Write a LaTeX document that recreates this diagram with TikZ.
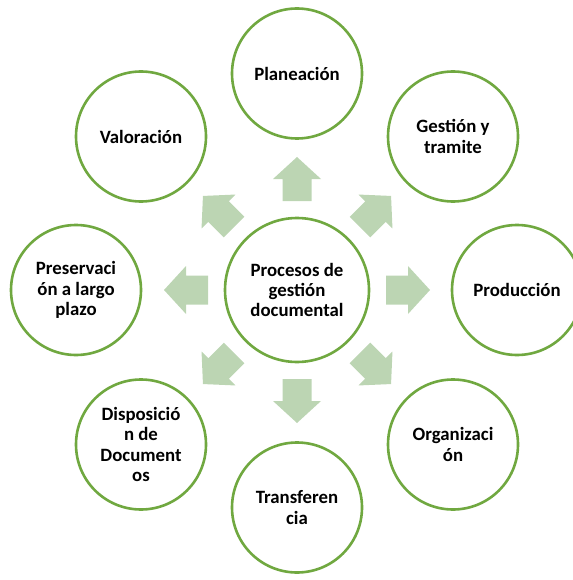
\documentclass[tikz,border=0pt]{standalone}
\usepackage{fontspec}
\setmainfont{Carlito}
\begin{document}
\begin{tikzpicture}[x=1pt,y=-1pt,
  proc/.style={circle, draw=ringgreen, line width=2.6pt, fill=white,
    minimum size=130pt, inner sep=0pt, align=center,
    font=\bfseries\fontsize{18.8}{20.3}\selectfont, text=black},
  hub/.style={proc, minimum size=144pt},
  blockarrow/.style={fill=arrowgreen, draw=none}]
\definecolor{ringgreen}{RGB}{112,168,64}
\definecolor{arrowgreen}{RGB}{188,213,179}
\useasboundingbox (0,0) rectangle (572,580);
\coordinate (c) at (297,290);
\foreach \a in {0,45,...,315}
  \fill[blockarrow, shift={(c)}, rotate=\a]
    (89,-14.5) -- (111,-14.5) -- (111,-24) -- (133,0) -- (111,24) -- (111,14.5) -- (89,14.5) -- cycle;
\node[hub] (center) at (c) {Procesos de\\gestión\\documental};
\node[proc] (plan) at (297,73.5) {Planeación};
\node[proc] (gest) at (453,136.5) {Gestión y\\tramite};
\node[proc] (prod) at (517,290) {Producción};
\node[proc] (org) at (453,444.5) {Organizaci\\ón};
\node[proc] (trans) at (297,507.5) {Transferen\\cia};
\node[proc] (disp) at (141,444.5) {Disposició\\n de\\Document\\os};
\node[proc] (pres) at (76,290) {Preservaci\\ón a largo\\plazo};
\node[proc] (val) at (141,136.5) {Valoración};
\end{tikzpicture}
\end{document}
